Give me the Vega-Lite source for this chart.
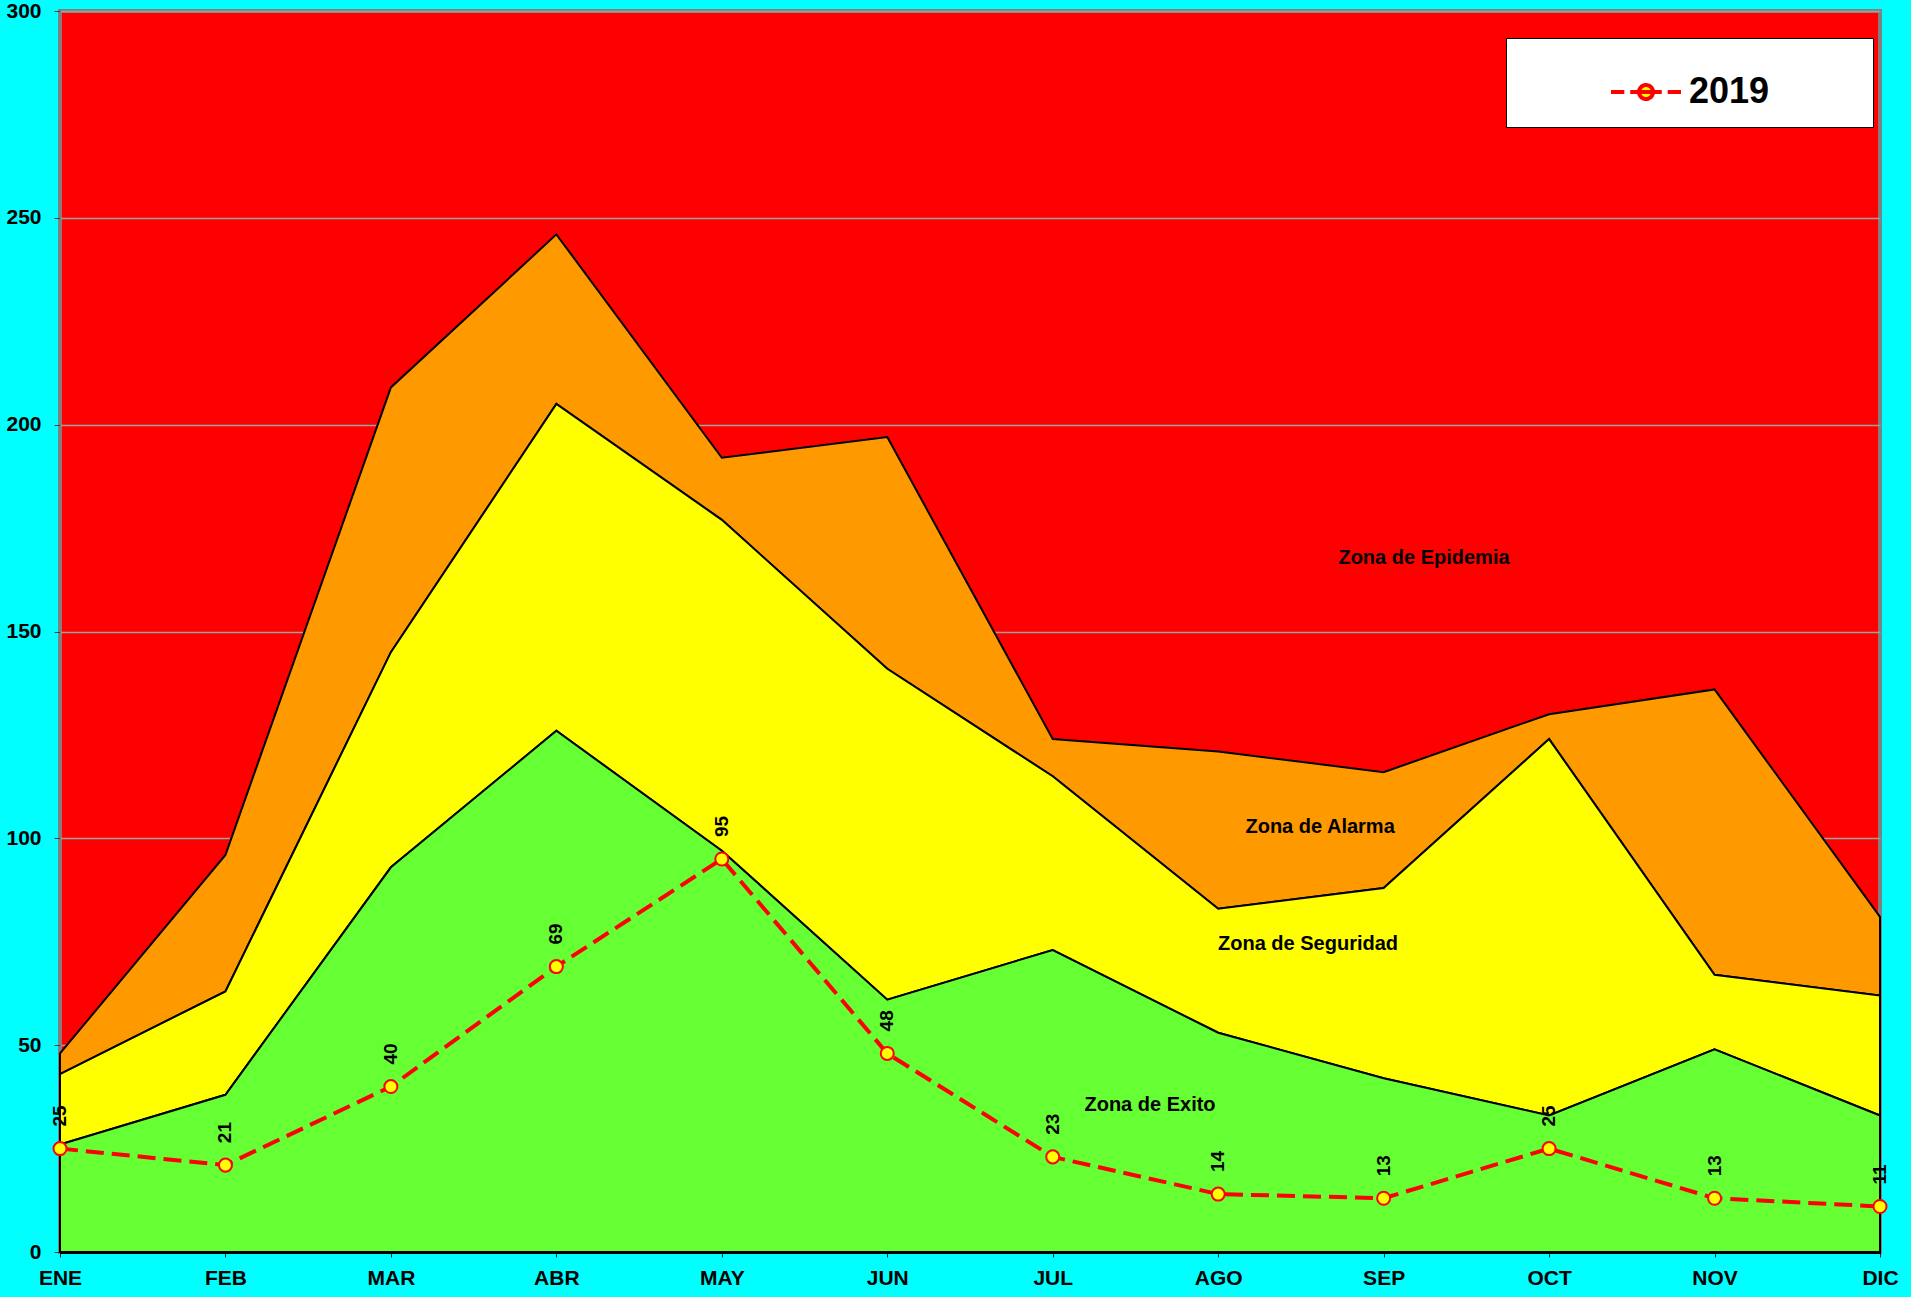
{
  "$schema": "https://vega.github.io/schema/vega-lite/v6.json",
  "width": 1820,
  "height": 1241,
  "autosize": {"type": "none"},
  "padding": {"left": 60, "top": 11, "right": 31, "bottom": 45},
  "background": "#00FFFF",
  "config": {
    "view": {"fill": "#FF0000", "stroke": "#808080", "strokeWidth": 4},
    "font": "Liberation Sans",
    "axis": {"labelFont": "Liberation Sans", "labelFontWeight": "bold", "labelFontSize": 21, "labelColor": "black"}
  },
  "datasets": {
    "meses": [
      {"m": 0, "exito": 26, "seguridad": 43, "alarma": 48, "casos": 25},
      {"m": 1, "exito": 38, "seguridad": 63, "alarma": 96, "casos": 21},
      {"m": 2, "exito": 93, "seguridad": 145, "alarma": 209, "casos": 40},
      {"m": 3, "exito": 126, "seguridad": 205, "alarma": 246, "casos": 69},
      {"m": 4, "exito": 97, "seguridad": 177, "alarma": 192, "casos": 95},
      {"m": 5, "exito": 61, "seguridad": 141, "alarma": 197, "casos": 48},
      {"m": 6, "exito": 73, "seguridad": 115, "alarma": 124, "casos": 23},
      {"m": 7, "exito": 53, "seguridad": 83, "alarma": 121, "casos": 14},
      {"m": 8, "exito": 42, "seguridad": 88, "alarma": 116, "casos": 13},
      {"m": 9, "exito": 33, "seguridad": 124, "alarma": 130, "casos": 25},
      {"m": 10, "exito": 49, "seguridad": 67, "alarma": 136, "casos": 13},
      {"m": 11, "exito": 33, "seguridad": 62, "alarma": 81, "casos": 11}
    ],
    "zonas": [
      {"x": 8.244, "y": 167.8, "t": "Zona de Epidemia"},
      {"x": 7.616, "y": 102.7, "t": "Zona de Alarma"},
      {"x": 7.543, "y": 74.4, "t": "Zona de Seguridad"},
      {"x": 6.588, "y": 35.5, "t": "Zona de Exito"}
    ]
  },
  "encoding": {
    "x": {
      "field": "m", "type": "quantitative",
      "scale": {"domain": [0, 11], "nice": false, "zero": false},
      "axis": {
        "title": null, "values": [0,1,2,3,4,5,6,7,8,9,10,11],
        "labelExpr": "['ENE','FEB','MAR','ABR','MAY','JUN','JUL','AGO','SEP','OCT','NOV','DIC'][datum.value]",
        "grid": false, "domainColor": "black", "domainWidth": 3, "tickColor": "#202020", "tickSize": 5,
        "labelPadding": 10, "labelFlush": false, "labelOverlap": false
      }
    }
  },
  "layer": [
    {
      "data": {"name": "meses"},
      "mark": {"type": "area", "color": "#FF9900", "stroke": "black", "strokeWidth": 2, "interpolate": "linear"},
      "encoding": {
        "y": {"field": "alarma", "type": "quantitative",
          "scale": {"domain": [0, 300], "nice": false},
          "axis": {"title": null, "values": [0,50,100,150,200,250,300], "grid": true, "gridColor": "#A0A0A0", "gridWidth": 1.5,
            "domain": false, "tickColor": "#404040", "tickSize": 6, "labelPadding": 13}},
        "y2": {"field": "seguridad"}
      }
    },
    {
      "data": {"name": "meses"},
      "mark": {"type": "area", "color": "#FFFF00", "stroke": "black", "strokeWidth": 2},
      "encoding": {"y": {"field": "seguridad", "type": "quantitative"}, "y2": {"field": "exito"}}
    },
    {
      "data": {"name": "meses"},
      "mark": {"type": "area", "color": "#66FF33", "stroke": "black", "strokeWidth": 2},
      "encoding": {"y": {"field": "exito", "type": "quantitative"}, "y2": {"datum": 0}}
    },
    {
      "data": {"name": "zonas"},
      "mark": {"type": "text", "font": "Liberation Sans", "fontWeight": "bold", "fontSize": 20, "color": "black", "align": "center", "baseline": "middle"},
      "encoding": {
        "x": {"field": "x", "type": "quantitative"},
        "y": {"field": "y", "type": "quantitative"},
        "text": {"field": "t"}
      }
    },
    {
      "data": {"name": "meses"},
      "mark": {"type": "line", "strokeWidth": 4, "strokeDash": [18, 8]},
      "encoding": {
        "y": {"field": "casos", "type": "quantitative"},
        "color": {
          "datum": "2019",
          "scale": {"domain": ["2019"], "range": ["#FF0000"]},
          "legend": {
            "orient": "none", "legendX": 1446, "legendY": 27,
            "title": "\u00a0", "titleOrient": "left", "titlePadding": 86, "titleFontSize": 11,
            "fillColor": "white", "strokeColor": "black", "padding": 17,
            "symbolType": "M-1,0H-0.62M-0.45,0H0.45M0.62,0H1M0.2,0A0.2,0.2,0,1,1,-0.2,0A0.2,0.2,0,1,1,0.2,0Z",
            "symbolSize": 4900, "symbolStrokeWidth": 4, "symbolDash": [1, 0],
            "symbolFillColor": "#FFFF00", "symbolStrokeColor": "#FF0000",
            "labelFont": "Liberation Sans", "labelFontWeight": "bold", "labelFontSize": 36, "labelColor": "black",
            "labelOffset": 6, "labelLimit": 500,
            "labelExpr": "datum.label + '\u00a0\u00a0\u00a0\u00a0\u00a0\u00a0\u2800'",
            "encode": {"symbols": {"update": {"fill": {"value": "#FFFF00"}, "stroke": {"value": "#FF0000"}, "strokeDash": {"value": [1, 0]}}}}
          }
        }
      }
    },
    {
      "data": {"name": "meses"},
      "mark": {"type": "point", "filled": true, "fill": "#FFFF00", "stroke": "#FF0000", "strokeWidth": 2, "size": 170, "opacity": 1},
      "encoding": {"y": {"field": "casos", "type": "quantitative"}}
    },
    {
      "data": {"name": "meses"},
      "mark": {"type": "text", "angle": 270, "align": "left", "baseline": "middle", "dx": 22, "font": "Liberation Sans", "fontWeight": "bold", "fontSize": 19, "color": "black"},
      "encoding": {
        "y": {"field": "casos", "type": "quantitative"},
        "text": {"field": "casos", "type": "quantitative"}
      }
    }
  ]
}
